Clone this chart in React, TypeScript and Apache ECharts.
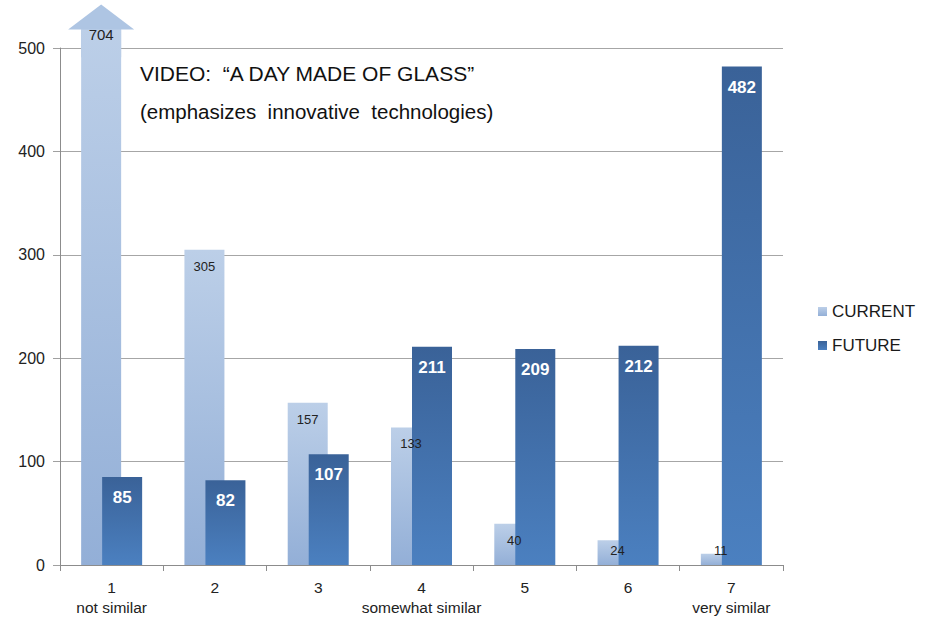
import React, { useEffect, useRef } from 'react';
import * as echarts from 'echarts';

const CATEGORIES = ['1', '2', '3', '4', '5', '6', '7'];
const CATEGORY_NOTES = ['not similar', '', '', 'somewhat similar', '', '', 'very similar'];
const CURRENT = [704, 305, 157, 133, 40, 24, 11];
const FUTURE = [85, 82, 107, 211, 209, 212, 482];
const SERIES_NAMES = ['CURRENT', 'FUTURE'];
const TITLE_LINES = ['VIDEO:  \u201CA DAY MADE OF GLASS\u201D', '(emphasizes  innovative  technologies)'];

const Y_MIN = 0;
const Y_MAX = 500;
const Y_INTERVAL = 100;
const BREAK_VALUE = 518; // bars above the axis max are cut here and capped with an arrow
const ARROW_TIP_VALUE = 542;
const ARROW_SHAFT_VALUE = 491;

const BAR_WIDTH = 40;
const BAR_GAP = -0.475;
const FONT = "'Liberation Sans', Arial, sans-serif";

export default function App() {
  const ref = useRef<HTMLDivElement>(null);
  useEffect(() => {
    if (!ref.current) return;
    const chart = echarts.init(ref.current, undefined, { renderer: 'svg' });
    const currentOffset = -(BAR_WIDTH + BAR_WIDTH * (1 + BAR_GAP)) / 2 + BAR_WIDTH / 2;

    const currentGrad = {
      type: 'linear', x: 0, y: 0, x2: 0, y2: 1,
      colorStops: [
        { offset: 0, color: '#bccfe8' },
        { offset: 1, color: '#93afd7' },
      ],
    };
    const futureGrad = {
      type: 'linear', x: 0, y: 0, x2: 0, y2: 1,
      colorStops: [
        { offset: 0, color: '#3a6298' },
        { offset: 1, color: '#4b80c0' },
      ],
    };

    const currentData = CURRENT.map((v) => {
      const shown = v > Y_MAX ? BREAK_VALUE : v;
      let label: any = undefined;
      if (v > Y_MAX) label = { position: 'insideTop', distance: -2, fontSize: 15 };
      else if (v < 30) label = { position: 'insideBottom', distance: 8 };
      return label ? { value: shown, label } : { value: shown };
    });

    const overflow = CURRENT.map((v, i) => [i, v]).filter((d) => d[1] > Y_MAX);

    chart.setOption({
      animation: false,
      grid: { left: 60, right: 149, top: 48, bottom: 54, containLabel: false },
      legend: {
        data: SERIES_NAMES,
        orient: 'vertical',
        left: 813,
        top: 298,
        itemWidth: 9,
        itemHeight: 9,
        itemGap: 17,
        icon: 'rect',
        textStyle: { fontFamily: FONT, fontSize: 17, color: '#1a1a1a' },
      },
      graphic: [
        {
          type: 'text', left: 140, top: 63,
          style: { text: TITLE_LINES[0], font: `21px ${FONT}`, fill: '#111' },
        },
        {
          type: 'text', left: 140, top: 101,
          style: { text: TITLE_LINES[1], font: `20.5px ${FONT}`, fill: '#111' },
        },
      ],
      xAxis: {
        type: 'category',
        data: CATEGORIES,
        axisLine: { lineStyle: { color: '#8c8c8c' } },
        axisTick: { show: true, length: 6, lineStyle: { color: '#8c8c8c' } },
        axisLabel: {
          interval: 0,
          margin: 12,
          fontFamily: FONT,
          fontSize: 15.5,
          lineHeight: 20,
          color: '#222',
          formatter: (val: string, idx: number) =>
            CATEGORY_NOTES[idx] ? `${val}\n${CATEGORY_NOTES[idx]}` : val,
        },
      },
      yAxis: {
        type: 'value',
        min: Y_MIN,
        max: Y_MAX,
        interval: Y_INTERVAL,
        axisLine: { show: true, lineStyle: { color: '#8c8c8c' } },
        axisTick: { show: true, length: 7, lineStyle: { color: '#a0a0a0' } },
        axisLabel: { margin: 15, fontFamily: FONT, fontSize: 16, color: '#222' },
        splitLine: { lineStyle: { color: '#a6a6a6' } },
      },
      series: [
        {
          name: SERIES_NAMES[0],
          type: 'bar',
          clip: false,
          barWidth: BAR_WIDTH,
          barGap: `${BAR_GAP * 100}%`,
          itemStyle: { color: currentGrad as any },
          data: currentData,
          label: {
            show: true,
            position: 'insideTop',
            distance: 10,
            fontFamily: FONT,
            fontSize: 13,
            color: '#222',
            formatter: (p: any) => String(CURRENT[p.dataIndex]),
          },
          labelLayout: { hideOverlap: false },
          z: 2,
        },
        {
          name: SERIES_NAMES[1],
          type: 'bar',
          clip: false,
          barWidth: BAR_WIDTH,
          barGap: `${BAR_GAP * 100}%`,
          itemStyle: { color: futureGrad as any },
          data: FUTURE,
          label: {
            show: true,
            position: 'insideTop',
            distance: 12,
            fontFamily: FONT,
            fontSize: 17,
            fontWeight: 'bold',
            color: '#fff',
          },
          z: 2,
        },
        {
          name: 'overflow',
          type: 'custom',
          clip: false,
          silent: true,
          z: 1,
          data: overflow,
          renderItem: (params: any, api: any) => {
            const idx = api.value(0);
            const base = api.coord([idx, BREAK_VALUE]);
            const tip = api.coord([idx, ARROW_TIP_VALUE]);
            const shaft = api.coord([idx, ARROW_SHAFT_VALUE]);
            const x = base[0] + currentOffset;
            const hw = BAR_WIDTH / 2;
            const aw = 33;
            return {
              type: 'polygon',
              z2: 100,
              shape: {
                points: [
                  [x - hw, shaft[1]],
                  [x - hw, base[1]],
                  [x - aw, base[1]],
                  [x, tip[1]],
                  [x + aw, base[1]],
                  [x + hw, base[1]],
                  [x + hw, shaft[1]],
                ],
              },
              style: { fill: '#aec5e3' },
            };
          },
        },
      ],
    } as any);
    return () => chart.dispose();
  }, []);
  return (
    <div
      ref={ref}
      style={{ position: 'fixed', left: 0, top: 0, width: 932, height: 619, background: '#fff' }}
    />
  );
}
